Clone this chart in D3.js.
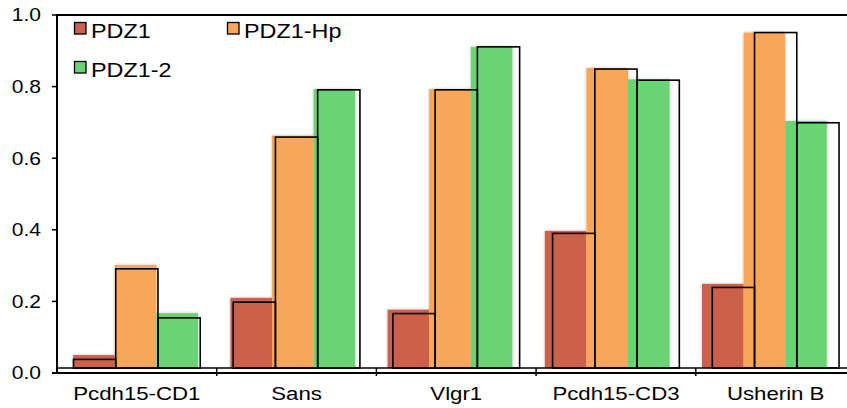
<!DOCTYPE html>
<html><head><meta charset="utf-8">
<script src="https://cdn.jsdelivr.net/npm/d3@7"></script>
<style>
html,body{margin:0;padding:0;background:#fff;}
svg{display:block;}
text{font-family:"Liberation Sans",Arial,sans-serif;fill:#000;}
</style></head>
<body><div id="chart"></div>
<script>
const categories = ["Pcdh15-CD1","Sans","Vlgr1","Pcdh15-CD3","Usherin B"];
const seriesNames = ["PDZ1","PDZ1-Hp","PDZ1-2"];
const seriesColors = ["#CD604B","#F9A65A","#6AD374"];
// filled bars
const pdz1Fill   = [0.050,0.210,0.177,0.397,0.249];
const pdz1HpFill = [0.302,0.663,0.793,0.852,0.951];
const pdz12Fill  = [0.167,0.793,0.911,0.820,0.704];
// outlined bars
const pdz1Outline   = [0.038,0.198,0.166,0.390,0.239];
const pdz1HpOutline = [0.291,0.659,0.791,0.849,0.951];
const pdz12Outline  = [0.154,0.791,0.911,0.818,0.699];
const yTicks = [0,0.2,0.4,0.6,0.8,1.0];
const yTickLabels = ["0.0","0.2","0.4","0.6","0.8","1.0"];

(function(){
const W = 847, H = 408;
const mLeft = 57, mTop = 15, mBottom = 373, baseGap = 5;
const stretch = 1.17;

const svg = d3.select("#chart").append("svg").attr("width",W).attr("height",H);
const defs = svg.append("defs");
const f = defs.append("filter").attr("id","sh").attr("x","-20%").attr("y","-5%").attr("width","140%").attr("height","110%");
f.append("feGaussianBlur").attr("in","SourceAlpha").attr("stdDeviation",1.6).attr("result","b");
f.append("feComponentTransfer").attr("in","b").attr("result","c").append("feFuncA").attr("type","linear").attr("slope",0.25);
const mg = f.append("feMerge"); mg.append("feMergeNode").attr("in","c"); mg.append("feMergeNode").attr("in","SourceGraphic");

const y = d3.scaleLinear().domain([0,1]).range([mBottom, mTop]);
const baseY = y(0) - baseGap;

const xO = d3.scaleBand().domain(categories).range([mLeft, mLeft + 5*159.7]).paddingInner(0).paddingOuter(0);
const x1O = d3.scaleBand().domain(seriesNames).range([0, xO.bandwidth()]).paddingInner(0).paddingOuter(0.39);
const xF = d3.scaleBand().domain(categories).range([mLeft, mLeft + 5*157.2]).paddingInner(0).paddingOuter(0);
const x1F = d3.scaleBand().domain(seriesNames).range([0, xF.bandwidth()]).paddingInner(0).paddingOuter(0.39);

const fillSeries = [pdz1Fill, pdz1HpFill, pdz12Fill];
const outSeries = [pdz1Outline, pdz1HpOutline, pdz12Outline];

const fillData = [], outData = [];
categories.forEach((c,i)=>{
  seriesNames.forEach((s,j)=>{
    fillData.push({c,s,j,v:fillSeries[j][i]});
    outData.push({c,s,j,v:outSeries[j][i]});
  });
});

svg.append("g").attr("filter","url(#sh)").selectAll("rect").data(fillData).join("rect")
  .attr("x",d=>xF(d.c)+x1F(d.s))
  .attr("width",x1F.bandwidth())
  .attr("y",d=>y(d.v))
  .attr("height",d=>baseY - y(d.v))
  .attr("fill",d=>seriesColors[d.j]);

svg.append("g").selectAll("rect").data(outData).join("rect")
  .attr("x",d=>xO(d.c)+x1O(d.s))
  .attr("width",x1O.bandwidth())
  .attr("y",d=>y(d.v))
  .attr("height",d=>baseY - y(d.v))
  .attr("fill","none").attr("stroke","#000").attr("stroke-width",1.6);

svg.append("line").attr("x1",mLeft).attr("x2",W).attr("y1",baseY).attr("y2",baseY)
  .attr("stroke","#000").attr("stroke-width",1.3);

svg.append("line").attr("x1",mLeft).attr("x2",W).attr("y1",y(1)).attr("y2",y(1))
  .attr("stroke","#000").attr("stroke-width",2);

const ya = svg.append("g").attr("transform",`translate(${mLeft},0)`);
ya.append("line").attr("x1",0).attr("x2",0).attr("y1",y(1)-1).attr("y2",y(0)+1).attr("stroke","#000").attr("stroke-width",2);
yTicks.forEach((t,i)=>{
  ya.append("line").attr("x1",-5).attr("x2",0).attr("y1",y(t)).attr("y2",y(t)).attr("stroke","#000").attr("stroke-width",1.5);
  ya.append("text").attr("transform",`translate(-16,${y(t)}) scale(${stretch},1)`)
    .attr("text-anchor","end").attr("dy","0.36em").attr("font-size",18).text(yTickLabels[i]);
});

svg.append("line").attr("x1",mLeft-5).attr("x2",W).attr("y1",y(0)).attr("y2",y(0)).attr("stroke","#000").attr("stroke-width",2);
categories.slice(1).forEach(c=>{
  svg.append("line").attr("x1",xO(c)).attr("x2",xO(c)).attr("y1",baseY).attr("y2",y(0)+3).attr("stroke","#000").attr("stroke-width",1.5);
});
categories.forEach(c=>{
  svg.append("text").attr("transform",`translate(${xO(c)+xO.bandwidth()/2},400) scale(${stretch},1)`)
    .attr("text-anchor","middle").attr("font-size",19).text(c);
});

const legendPos = [[74,22],[227,22],[74,61]];
seriesNames.forEach((s,j)=>{
  const g = svg.append("g").attr("transform",`translate(${legendPos[j][0]},${legendPos[j][1]})`);
  g.append("rect").attr("x",0.5).attr("y",0.5).attr("width",11.5).attr("height",11.5)
    .attr("fill",seriesColors[j]).attr("stroke","#000").attr("stroke-width",1.3);
  g.append("text").attr("transform",`translate(17,16) scale(${stretch},1)`).attr("font-size",20).text(s);
});
})();
</script></body></html>
